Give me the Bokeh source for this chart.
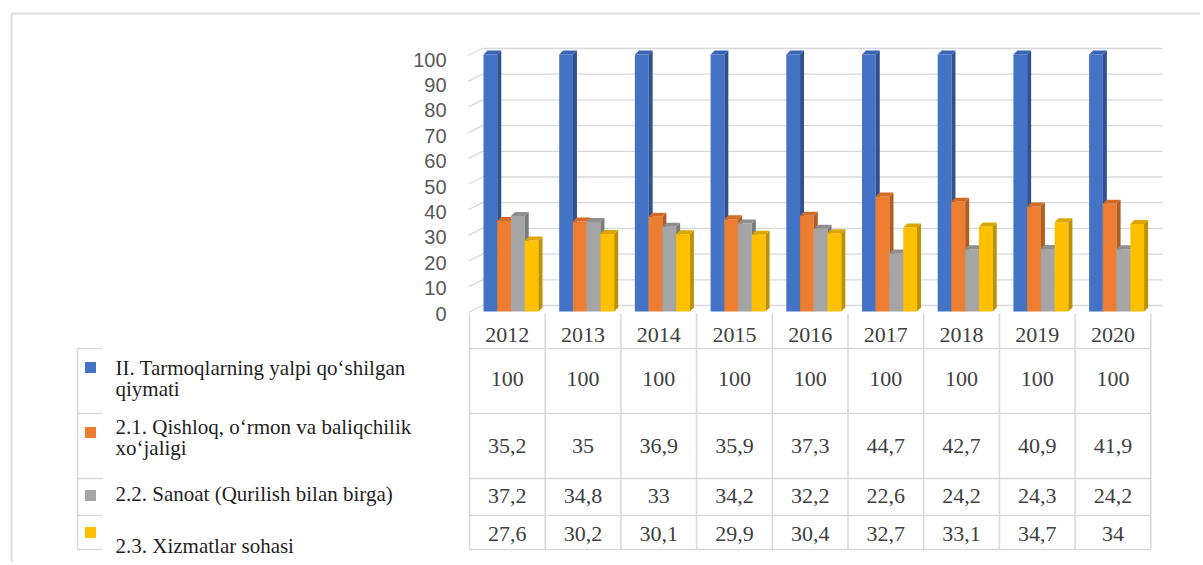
from bokeh.plotting import figure
from bokeh.models import Range1d
from bokeh.core.properties import value
from bokeh.embed import file_html
from bokeh.resources import INLINE

# ---------------- data ----------------
years = ["2012", "2013", "2014", "2015", "2016", "2017", "2018", "2019", "2020"]
total = [100, 100, 100, 100, 100, 100, 100, 100, 100]
agriculture = [35.2, 35, 36.9, 35.9, 37.3, 44.7, 42.7, 40.9, 41.9]
industry = [37.2, 34.8, 33, 34.2, 32.2, 22.6, 24.2, 24.3, 24.2]
services = [27.6, 30.2, 30.1, 29.9, 30.4, 32.7, 33.1, 34.7, 34]
series_names = [
    "II. Tarmoqlarning yalpi qo\u2018shilgan\nqiymati",
    "2.1. Qishloq, o\u2018rmon va baliqchilik\nxo\u2018jaligi",
    "2.2. Sanoat (Qurilish bilan birga)",
    "2.3. Xizmatlar sohasi",
]
y_ticks = [0, 10, 20, 30, 40, 50, 60, 70, 80, 90, 100]

series = [total, agriculture, industry, services]
front_colors = ["#4472C4", "#ED7D31", "#A5A5A5", "#FFC000"]
side_colors = ["#2F528F", "#B05C22", "#7B7B7B", "#BF9000"]
top_colors = ["#3A65B3", "#D06B28", "#8F8F8F", "#DCA600"]

# ---------------- layout (page pixels) ----------------
W, H = 1200, 562
OFF = 0
CAT_PX = 75.7      # width of one category / table column
X0_PX = 469        # left edge of table / first category
Y0_PX = 311        # value 0 on bar fronts
UNIT_PX = 2.57     # pixels per value unit


def xd(px):
    return (px - X0_PX) / CAT_PX


def yd(py):
    return (Y0_PX - py) / UNIT_PX


p = figure(width=W, height=H, output_backend="svg", toolbar_location=None,
           x_range=Range1d(xd(OFF), xd(OFF + W)),
           y_range=Range1d(yd(OFF + H), yd(OFF)),
           x_axis_type=None, y_axis_type=None, min_border=0)
p.outline_line_color = None
p.background_fill_color = "white"
p.border_fill_color = "white"

GRID = "#d9d9d9"

# outer chart border (left & top visible)
p.segment(x0=[xd(11), xd(11)], y0=[yd(13), yd(13)],
          x1=[xd(11), xd(OFF + W + 5)], y1=[yd(OFF + H + 5), yd(13)],
          line_color="#dedede", line_width=2)

# back-wall gridlines with 3D diagonal on the left
g_dy = 6 / UNIT_PX
g_front = 7 / UNIT_PX
gx_back = xd(482)
gx_front = xd(468)
gx_end = xd(1162)
xs, ys = [], []
for t in y_ticks:
    xs.append([gx_front, gx_back, gx_end])
    ys.append([t + g_dy - g_front, t + g_dy, t + g_dy])
p.multi_line(xs=xs, ys=ys, line_color=GRID, line_width=1.3)

# y tick labels
p.text(x=[xd(446)] * len(y_ticks), y=[t * 0.988 - 0.78 for t in y_ticks],
       text=[str(t) for t in y_ticks], text_align="right", text_baseline="middle",
       text_font=value("Liberation Sans"), text_font_size=value("20px"),
       text_color="#595959")

# 3D bars
bw = 13.75 / CAT_PX
goff = 14 / CAT_PX
ddx = 4 / CAT_PX
ddy = 4 / UNIT_PX
for i, vals in enumerate(series):
    lefts = [k + goff + i * bw for k in range(len(years))]
    rights = [l + bw for l in lefts]
    p.quad(left=lefts, right=rights, bottom=[0] * len(vals), top=vals,
           fill_color=front_colors[i], line_color=None)
    sx = [[r, r + ddx, r + ddx, r] for r in rights]
    sy = [[0, ddy, v + ddy, v] for v in vals]
    p.patches(xs=sx, ys=sy, fill_color=side_colors[i], line_color=None)
    tx = [[l, r, r + ddx, l + ddx] for l, r in zip(lefts, rights)]
    ty = [[v, v, v + ddy, v + ddy] for v in vals]
    p.patches(xs=tx, ys=ty, fill_color=top_colors[i], line_color=None)

# data table grid
row_lines = [348, 413, 478, 515, 549]
ncat = len(years)
p.segment(x0=list(range(ncat + 1)), y0=[yd(313)] * (ncat + 1),
          x1=list(range(ncat + 1)), y1=[yd(549)] * (ncat + 1),
          line_color=GRID, line_width=1.5)
p.segment(x0=[0] * len(row_lines), y0=[yd(r) for r in row_lines],
          x1=[ncat] * len(row_lines), y1=[yd(r) for r in row_lines],
          line_color=GRID, line_width=1.5)
# legend cell stubs
p.segment(x0=[xd(77)] * len(row_lines), y0=[yd(r) for r in row_lines],
          x1=[xd(102)] * len(row_lines), y1=[yd(r) for r in row_lines],
          line_color=GRID, line_width=1.5)
p.segment(x0=[xd(77)], y0=[yd(348)], x1=[xd(77)], y1=[yd(549)],
          line_color=GRID, line_width=1.5)


def fmt(v):
    return f"{v:g}".replace(".", ",")


centers = [k + 0.5 for k in range(ncat)]
serif = value("Liberation Serif")
p.text(x=centers, y=[yd(334)] * ncat, text=years, text_align="center",
       text_baseline="middle", text_font=serif, text_font_size=value("22px"),
       text_color="#404040")
row_centers = [378, 445, 495, 533]
for vals, rc in zip(series, row_centers):
    p.text(x=centers, y=[yd(rc)] * ncat, text=[fmt(v) for v in vals],
           text_align="center", text_baseline="middle", text_font=serif,
           text_font_size=value("22px"), text_color="#404040")

# legend keys and labels
key_y = [367, 432, 495, 532]
p.scatter(x=[xd(90)] * 4, y=[yd(k) for k in key_y], marker="square", size=11,
          fill_color=front_colors, line_color=None)
label_centers = [[367, 388], [426, 447], [493], [545]]
lx, ly, lt = [], [], []
for name, cs in zip(series_names, label_centers):
    for line, c in zip(name.split("\n"), cs):
        lx.append(xd(115))
        ly.append(yd(c))
        lt.append(line)
p.text(x=lx, y=ly, text=lt, text_align="left", text_baseline="middle",
       text_font=serif, text_font_size=value("21px"), text_color="#1f1f1f")

open("out.html", "w").write(file_html(p, INLINE))
